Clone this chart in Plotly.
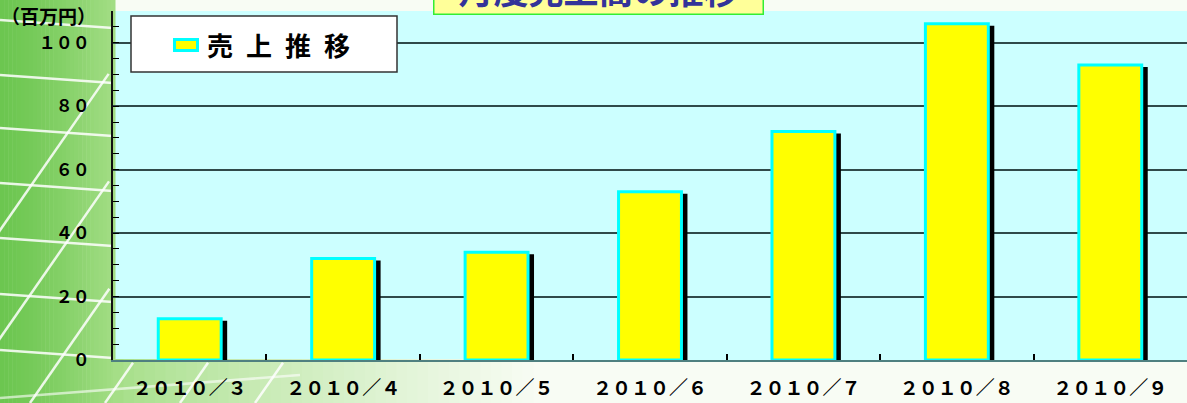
import plotly.graph_objects as go

# ---- data ----
months = ["２０１０／３", "２０１０／４", "２０１０／５", "２０１０／６", "２０１０／７", "２０１０／８", "２０１０／９"]
sales = [13, 32, 34, 53, 72, 106, 93]
y_tickvals = [0, 20, 40, 60, 80, 100]
y_ticktext = ["０", "２０", "４０", "６０", "８０", "１００"]
series_name = "売上推移"
title_text = "月度売上高の推移"
unit_text = "（百万円）"

W, H = 1187, 403
ML, MR, MT, MB = 113, 0, 11, 43
PW = W - ML - MR
PH = H - MT - MB
CAT_PX = PW / len(months)


def px_x(p):
    return (p - ML) / PW


def px_y(p):
    return (H - MB - p) / PH


FONT = "Noto Sans CJK JP"
bar_w = 0.41
shadow_dx = 6 / CAT_PX
shadow_dy = 2 * 110 / PH

fig = go.Figure()
fig.add_trace(go.Bar(
    x=months, y=[v - shadow_dy for v in sales], width=bar_w,
    offset=-bar_w / 2 + shadow_dx,
    marker=dict(color="#000000", line=dict(width=0)),
    showlegend=False, hoverinfo="skip",
))
fig.add_trace(go.Bar(
    x=months, y=sales, width=bar_w, offset=-bar_w / 2, name=series_name,
    marker=dict(color="#FFFF00", line=dict(color="#00FFFF", width=3)),
    showlegend=False,
))

shapes = []


def lerp(c1, c2, t):
    return "rgb(%d,%d,%d)" % tuple(round(a + (b - a) * t) for a, b in zip(c1, c2))


# left decorative green panel (gradient strips)
g_dark = (108, 198, 80)
g_light = (165, 222, 135)
steps = 28
for i in range(steps):
    x0 = i * (ML + 2) / steps
    x1 = (i + 1) * (ML + 2) / steps + 0.5
    shapes.append(dict(type="rect", xref="paper", yref="paper", layer="below",
                       x0=px_x(x0), x1=px_x(x1), y0=px_y(H), y1=px_y(0),
                       fillcolor=lerp(g_dark, g_light, (i / steps) ** 1.3), line=dict(width=0)))
# bottom strip fading to white
white = (248, 252, 244)
steps2 = 40
for i in range(steps2):
    x0 = ML + i * 420 / steps2
    x1 = ML + (i + 1) * 420 / steps2 + 0.5
    shapes.append(dict(type="rect", xref="paper", yref="paper", layer="below",
                       x0=px_x(x0), x1=px_x(x1), y0=px_y(H), y1=px_y(H - MB - 1),
                       fillcolor=lerp(g_light, white, min(1, (i / steps2) ** 0.8)),
                       line=dict(width=0)))


def add_line_clipped(xa, ya, xb, yb, color):
    # draw only the parts outside the plot area (left panel and bottom strip)
    n = 60
    pts = [(xa + (xb - xa) * k / n, ya + (yb - ya) * k / n) for k in range(n + 1)]
    seg = []

    def flush(s):
        if len(s) >= 2:
            shapes.append(dict(type="line", xref="paper", yref="paper", layer="below",
                               x0=px_x(s[0][0]), y0=px_y(s[0][1]),
                               x1=px_x(s[-1][0]), y1=px_y(s[-1][1]),
                               line=dict(color=color, width=2.5)))

    for p in pts:
        if p[0] <= ML or p[1] >= H - MB:
            seg.append(p)
        else:
            flush(seg)
            seg = []
    flush(seg)


line_col = "rgba(255,255,255,0.85)"
for yy in [20, 75, 128, 183, 238, 294, 350]:
    add_line_clipped(0, yy, ML, yy + 8, line_col)
add_line_clipped(0, 398, 300, 375, "rgba(255,255,255,0.6)")
for xb in [-120, -45, 30, 105, 180, 255]:
    add_line_clipped(xb, H, xb + 280, 0, line_col)

# legend box
shapes.append(dict(type="rect", xref="paper", yref="paper", layer="above",
                   x0=px_x(131), x1=px_x(397), y0=px_y(72), y1=px_y(16),
                   fillcolor="#FFFFFF", line=dict(color="#333333", width=1.5)))
shapes.append(dict(type="rect", xref="paper", yref="paper", layer="above",
                   x0=px_x(174.5), x1=px_x(197.5), y0=px_y(50.5), y1=px_y(39.5),
                   fillcolor="#FFFF00", line=dict(color="#00FFFF", width=3)))

annotations = [
    dict(text="\u2002".join(series_name), xref="paper", yref="paper",
         x=px_x(205), y=px_y(44), xanchor="left", yanchor="middle", showarrow=False,
         font=dict(family=FONT, size=26, color="#000000", weight="bold")),
    dict(text=unit_text, xref="paper", yref="paper",
         x=px_x(48), y=px_y(16), xanchor="center", yanchor="middle", showarrow=False,
         borderpad=0,
         font=dict(family=FONT, size=19, color="#000000", weight="bold")),
    dict(text=title_text, xref="paper", yref="paper",
         x=px_x(598), y=px_y(15), xanchor="center", yanchor="bottom", showarrow=False,
         width=328, height=50, valign="bottom", borderpad=0,
         bgcolor="#FFFF99", bordercolor="#33EE33", borderwidth=1.5,
         font=dict(family=FONT, size=35, color="#333399", weight="bold")),
]

fig.update_layout(
    width=W, height=H,
    margin=dict(l=ML, r=MR, t=MT, b=MB),
    paper_bgcolor="rgb(248,252,244)",
    plot_bgcolor="#CCFFFF",
    barmode="overlay",
    showlegend=False,
    shapes=shapes,
    annotations=annotations,
    xaxis=dict(
        type="category", range=[-0.5, len(months) - 0.5],
        showline=True, linecolor="#4F8080", linewidth=2,
        ticks="inside", tickson="boundaries", ticklen=6, tickwidth=1.5, tickcolor="#000000",
        showgrid=False, ticklabelstandoff=10,
        tickfont=dict(family=FONT, size=19, color="#000000", weight="bold"),
    ),
    yaxis=dict(
        range=[0, 110], tickvals=y_tickvals, ticktext=y_ticktext,
        showline=True, linecolor="#111111", linewidth=1.5,
        ticks="inside", ticklen=6, tickwidth=1.2, tickcolor="#000000",
        showgrid=True, gridcolor="#2F4A4A", gridwidth=1.5, zeroline=False,
        minor=dict(dtick=5, ticks="inside", ticklen=6, tickwidth=1.2, tickcolor="#000000", showgrid=False),
        ticklabelstandoff=18,
        tickfont=dict(family=FONT, size=17, color="#000000", weight="bold"),
    ),
)

fig.write_html("out.html", config={"displayModeBar": False},
               post_script="document.body.style.margin='0';")
